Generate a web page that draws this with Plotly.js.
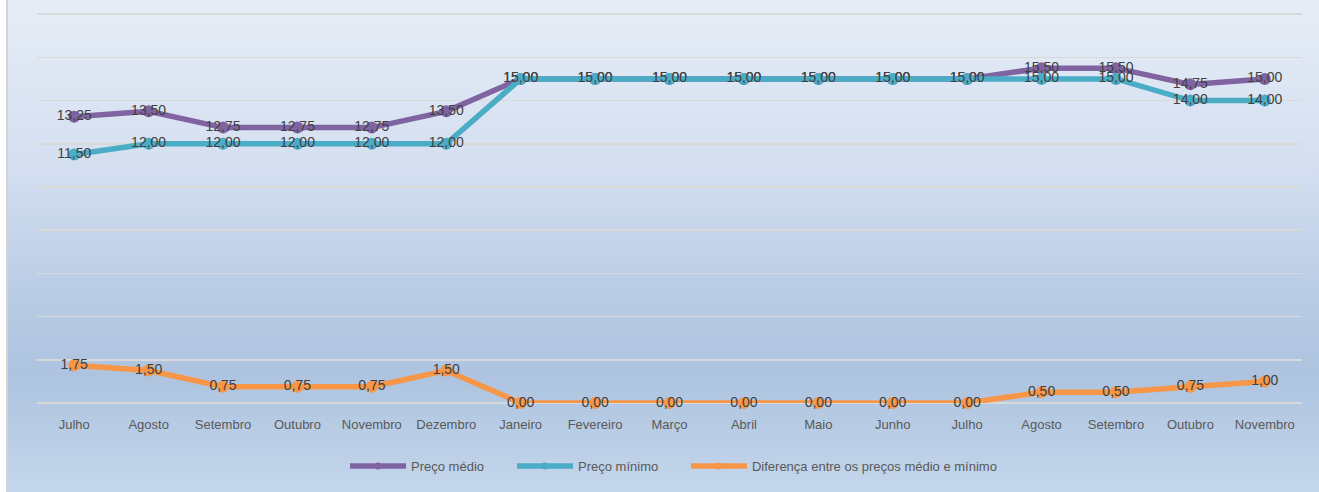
<!DOCTYPE html>
<html>
<head>
<meta charset="utf-8">
<script src="https://cdn.plot.ly/plotly-3.0.1.min.js"></script>
<style>
  html, body { margin: 0; padding: 0; background: #ffffff; width: 1319px; height: 492px; overflow: hidden; }
  #bg { position: absolute; left: 6px; top: 0; width: 1311px; height: 492px;
        border-left: 2px solid #d4d4d4;
        background: linear-gradient(to bottom, #e6edf6 0%, #d3def0 35%, #b9cce5 60%, #adc3df 76%, #c4d6eb 100%); }
  #chart { position: absolute; left: 0; top: 0; width: 1319px; height: 492px; }
</style>
</head>
<body>
<div id="bg"></div>
<div id="chart"></div>
<script>
const months = ["Julho","Agosto","Setembro","Outubro","Novembro","Dezembro","Janeiro","Fevereiro","Março","Abril","Maio","Junho","Julho","Agosto","Setembro","Outubro","Novembro"];
const precoMedio = [13.25,13.50,12.75,12.75,12.75,13.50,15.00,15.00,15.00,15.00,15.00,15.00,15.00,15.50,15.50,14.75,15.00];
const precoMinimo = [11.50,12.00,12.00,12.00,12.00,12.00,15.00,15.00,15.00,15.00,15.00,15.00,15.00,15.00,15.00,14.00,14.00];
const diferenca = [1.75,1.50,0.75,0.75,0.75,1.50,0.00,0.00,0.00,0.00,0.00,0.00,0.00,0.50,0.50,0.75,1.00];
const seriesNames = ["Preço médio","Preço mínimo","Diferença entre os preços médio e mínimo"];
const seriesColors = ["#8064a2","#4bacc6","#f79646"];

const xIdx = months.map((m, i) => i);
const fmt = v => v.toFixed(2).replace(".", ",");
const fontFam = '"Liberation Sans", Arial, sans-serif';
const legendIds = ["legend", "legend2", "legend3"];
const legendX = [0.2435, 0.3755, 0.513];

function mk(name, vals, color) {
  return {
    type: "scatter",
    mode: "lines+markers+text",
    name: name,
    x: xIdx,
    y: vals,
    text: vals.map(fmt),
    textposition: "middle center",
    textfont: { family: fontFam, size: 14, color: "#404040" },
    line: { color: color, width: 5.5 },
    marker: { color: color, size: 12 },
    cliponaxis: false,
    showlegend: false,
    hoverinfo: "skip"
  };
}
function legendItem(name, color, lg) {
  return {
    type: "scatter",
    mode: "lines+markers",
    name: name,
    x: [null],
    y: [null],
    line: { color: color, width: 5.5 },
    marker: { color: color, size: 7 },
    showlegend: true,
    legend: lg,
    hoverinfo: "skip"
  };
}

const allVals = [precoMedio, precoMinimo, diferenca];
const data = allVals.map((v, i) => mk(seriesNames[i], v, seriesColors[i]))
  .concat(seriesNames.map((n, i) => legendItem(n, seriesColors[i], legendIds[i])));

function legendCfg(x) {
  return {
    orientation: "h",
    x: x, xanchor: "left",
    y: -0.158, yanchor: "middle",
    font: { family: fontFam, size: 13, color: "#595959" },
    itemwidth: 56,
    bgcolor: "rgba(0,0,0,0)"
  };
}

const layout = {
  width: 1319,
  height: 492,
  paper_bgcolor: "rgba(0,0,0,0)",
  plot_bgcolor: "rgba(0,0,0,0)",
  margin: { l: 37, r: 17, t: 12, b: 88 },
  showlegend: true,
  legend: legendCfg(legendX[0]),
  legend2: legendCfg(legendX[1]),
  legend3: legendCfg(legendX[2]),
  xaxis: {
    type: "linear",
    range: [-0.5, months.length - 0.5],
    tickmode: "array",
    tickvals: xIdx,
    ticktext: months,
    showgrid: false,
    zeroline: false,
    showline: false,
    ticks: "",
    ticklabelstandoff: 12,
    tickfont: { family: fontFam, size: 13, color: "#595959" },
    fixedrange: true
  },
  yaxis: {
    range: [0, 18.1],
    tickmode: "linear",
    tick0: 0,
    dtick: 2,
    showticklabels: false,
    showgrid: true,
    gridcolor: "#d9d9d9",
    gridwidth: 1.5,
    zeroline: true,
    zerolinecolor: "#d9d9d9",
    zerolinewidth: 1.5,
    ticks: "",
    fixedrange: true
  }
};

Plotly.newPlot("chart", data, layout, { displayModeBar: false, staticPlot: true });
</script>
</body>
</html>
